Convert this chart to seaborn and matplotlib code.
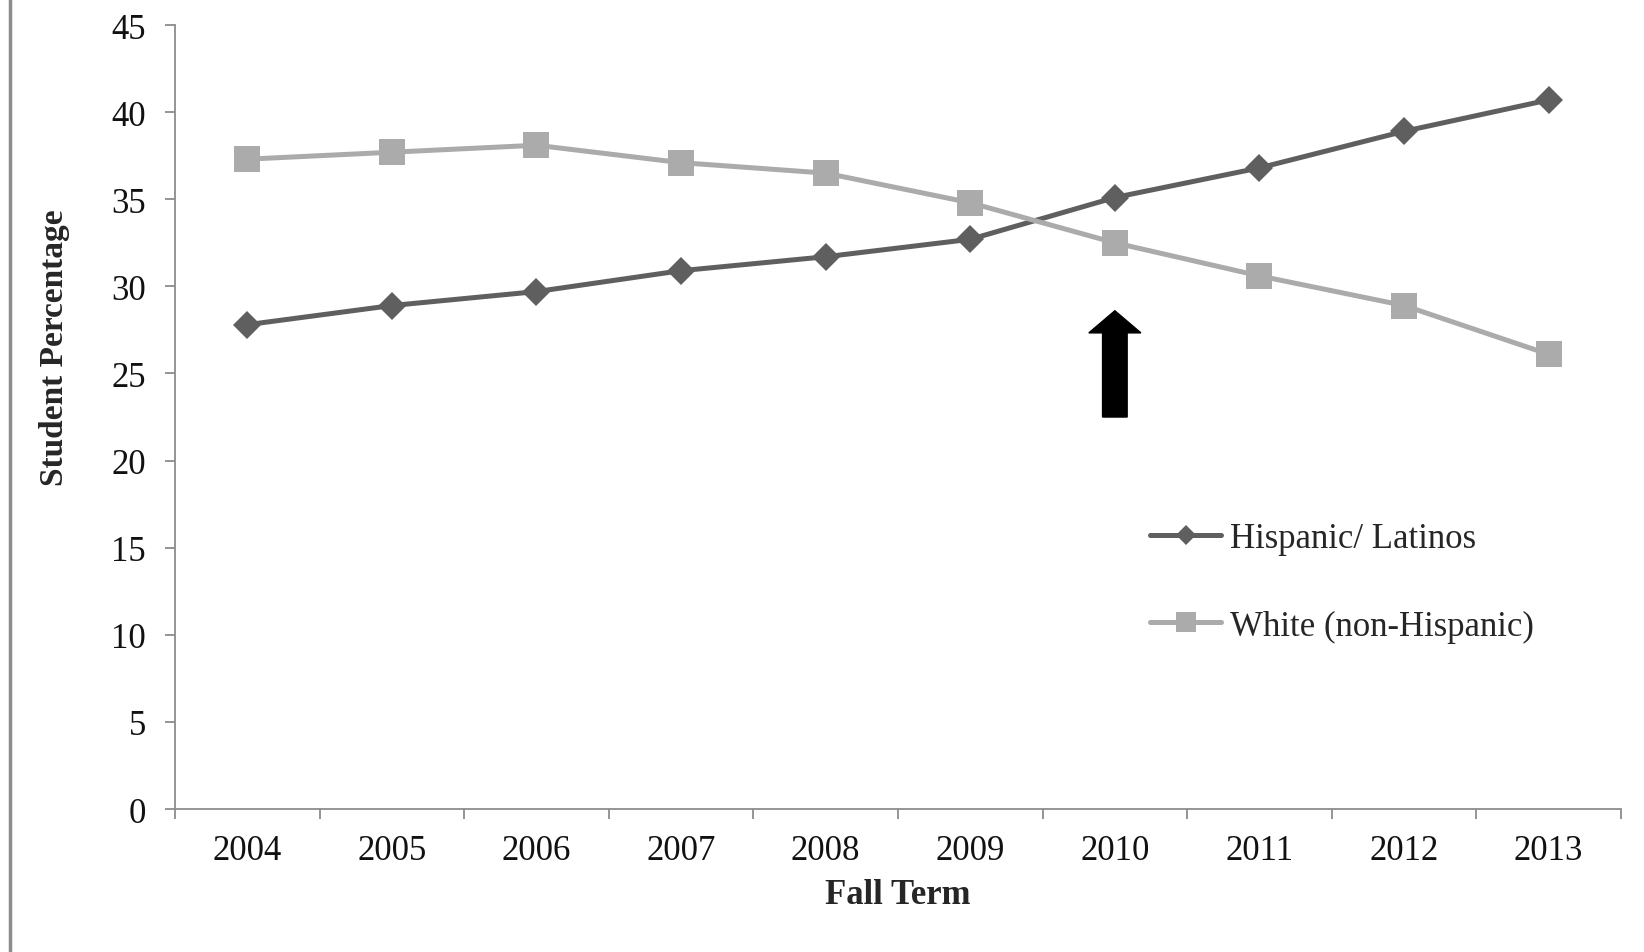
import matplotlib
matplotlib.use("Agg")
import matplotlib.pyplot as plt
from matplotlib.lines import Line2D
from matplotlib.patches import FancyArrow
import seaborn as sns
import pandas as pd

# Fall-term enrolment share by group (%)
years = ["2004", "2005", "2006", "2007", "2008", "2009", "2010", "2011", "2012", "2013"]
hispanic = [27.8, 28.9, 29.7, 30.9, 31.7, 32.7, 35.1, 36.8, 38.9, 40.7]
white = [37.3, 37.7, 38.1, 37.1, 36.5, 34.8, 32.5, 30.6, 28.9, 26.1]
series_names = ["Hispanic/ Latinos", "White (non-Hispanic)"]
y_ticks = [0, 5, 10, 15, 20, 25, 30, 35, 40, 45]
highlight_year = "2010"

sns.set_theme(style="white")
plt.rcParams["font.family"] = ["Liberation Serif", "DejaVu Serif"]

pos = list(range(len(years)))
df = pd.DataFrame({
    "pos": pos * 2,
    "value": hispanic + white,
    "group": [series_names[0]] * len(years) + [series_names[1]] * len(years),
})

fig = plt.figure(figsize=(16.44, 9.53), dpi=100)
ax = fig.add_axes([0.1064, 0.150, 0.986 - 0.1064, 0.9727 - 0.150])

palette = {series_names[0]: "#5f5f5f", series_names[1]: "#ababab"}
sns.lineplot(data=df, x="pos", y="value", hue="group", style="group",
             markers={series_names[0]: "D", series_names[1]: "s"},
             dashes=False, palette=palette, linewidth=3.6,
             markersize=14, markeredgewidth=0, ax=ax, legend=False)
# squares are drawn a little larger than diamonds
for line in ax.get_lines():
    if line.get_marker() == "s":
        line.set_markersize(19)

# upward arrow marking the highlighted term
hx = years.index(highlight_year)
ax.add_patch(FancyArrow(hx, 22.5, 0, 6.1, width=0.17, head_width=0.36,
                        head_length=1.27, length_includes_head=True,
                        color="black", zorder=5))

ax.set_xlim(-0.5, len(years) - 0.5)
ax.set_ylim(0, 45)
ax.set_yticks(y_ticks)
ax.set_yticklabels([str(t) for t in y_ticks])
ax.set_xticks(pos)
ax.set_xticklabels(years)
ax.set_xticks([p - 0.5 for p in pos] + [len(years) - 0.5], minor=True)

spine_col = "#8c8c8c"
for side in ["top", "right"]:
    ax.spines[side].set_visible(False)
for side in ["left", "bottom"]:
    ax.spines[side].set_color(spine_col)
    ax.spines[side].set_linewidth(1.3)

ax.tick_params(axis="y", which="major", left=True, length=7, width=1.3,
               color=spine_col, pad=14, labelsize=25, labelcolor="#111111")
ax.tick_params(axis="x", which="major", bottom=False, length=0, pad=18,
               labelsize=25, labelcolor="#111111")
ax.tick_params(axis="x", which="minor", bottom=True, length=7, width=1.3,
               color=spine_col)

ax.set_xlabel("Fall Term", fontsize=25, fontweight="bold", labelpad=8)
ax.set_ylabel("Student Percentage", fontsize=24, fontweight="bold")
ax.yaxis.set_label_coords(-0.0725, 0.59)

handles = [
    Line2D([], [], color=palette[series_names[0]], lw=3.6, marker="D",
           markersize=10, markeredgewidth=0),
    Line2D([], [], color=palette[series_names[1]], lw=3.6, marker="s",
           markersize=14, markeredgewidth=0),
]
ax.legend(handles, series_names, loc="upper left", frameon=False,
          bbox_to_anchor=(1150 / 1644, 1 - 523 / 953),
          bbox_transform=fig.transFigure, fontsize=25, handlelength=2.05,
          handletextpad=0.25, labelspacing=1.57, borderpad=0, borderaxespad=0)

# thin vertical rule along the left edge of the figure
fig.add_artist(Line2D([10 / 1644, 10 / 1644], [0, 1], color="#8c8c8c",
                      lw=2.5, transform=fig.transFigure))

fig.savefig("out.png", dpi=100, facecolor="white")
